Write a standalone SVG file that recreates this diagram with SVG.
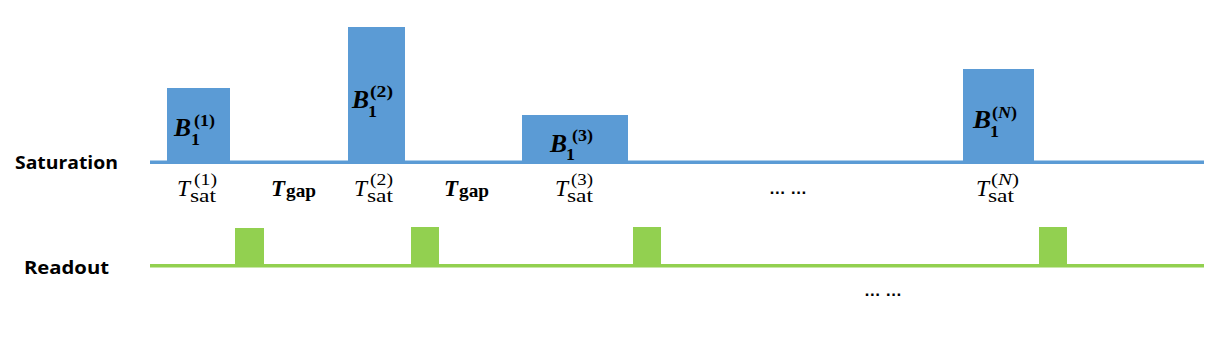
<svg xmlns="http://www.w3.org/2000/svg" width="1207" height="338" viewBox="0 0 1207 338">
<style>
.sat{fill:#5B9BD5}
.ro{fill:#92D050}
.lbl{font-family:"Open Sans","Liberation Sans",sans-serif;font-weight:bold;font-size:18px;fill:#000}
.m{font-family:"Liberation Serif","DejaVu Serif",serif;fill:#000}
.bi{font-weight:bold;font-style:italic}
.b{font-weight:bold}
.i{font-style:italic}
.dots{font-family:"Liberation Sans",sans-serif;font-size:17px;font-weight:bold;fill:#000}
</style>
<rect width="1207" height="338" fill="#fff"/>
<g id="connectors">
<rect class="sat" x="150" y="160.5" width="1054" height="3.5"/>
<rect class="ro" x="150" y="264" width="1054" height="3.5"/>
</g>
<g id="label-saturation"><text class="lbl" x="15" y="169" textLength="103" lengthAdjust="spacingAndGlyphs">Saturation</text></g>
<g id="label-readout"><text class="lbl" x="24" y="274" textLength="85" lengthAdjust="spacingAndGlyphs">Readout</text></g>
<g id="pulse-1">
<rect class="sat" x="167" y="88" width="63" height="74"/>
<text class="m bi" x="174" y="136" font-size="26" textLength="17" lengthAdjust="spacingAndGlyphs">B</text>
<text class="m b" x="191" y="145" font-size="17" textLength="9" lengthAdjust="spacingAndGlyphs">1</text>
<text class="m b" x="194" y="126" font-size="16" textLength="21" lengthAdjust="spacingAndGlyphs">(1)</text>
</g>
<g id="pulse-2">
<rect class="sat" x="348" y="27" width="57" height="135"/>
<text class="m bi" x="352" y="108" font-size="26" textLength="17" lengthAdjust="spacingAndGlyphs">B</text>
<text class="m b" x="368" y="117" font-size="17" textLength="9" lengthAdjust="spacingAndGlyphs">1</text>
<text class="m b" x="370" y="97" font-size="16" textLength="23" lengthAdjust="spacingAndGlyphs">(2)</text>
</g>
<g id="pulse-3">
<rect class="sat" x="522" y="115" width="106" height="47"/>
<text class="m bi" x="550" y="152" font-size="26" textLength="17" lengthAdjust="spacingAndGlyphs">B</text>
<text class="m b" x="566" y="160" font-size="17" textLength="9" lengthAdjust="spacingAndGlyphs">1</text>
<text class="m b" x="572" y="141" font-size="16" textLength="21" lengthAdjust="spacingAndGlyphs">(3)</text>
</g>
<g id="pulse-N">
<rect class="sat" x="963" y="69" width="71" height="93"/>
<text class="m bi" x="973" y="128" font-size="26" textLength="18" lengthAdjust="spacingAndGlyphs">B</text>
<text class="m b" x="990" y="137" font-size="17" textLength="9" lengthAdjust="spacingAndGlyphs">1</text>
<text class="m b" x="992" y="118" font-size="16" textLength="25" lengthAdjust="spacingAndGlyphs">(<tspan class="i">N</tspan>)</text>
</g>
<g id="tsat-1">
<text class="m i" x="177" y="196" font-size="23" textLength="13" lengthAdjust="spacingAndGlyphs">T</text>
<text class="m" x="190" y="202" font-size="19" textLength="26" lengthAdjust="spacingAndGlyphs">sat</text>
<text class="m" x="194" y="185" font-size="16" textLength="23" lengthAdjust="spacingAndGlyphs">(1)</text>
</g>
<g id="tgap-1">
<text class="m bi" x="271" y="196" font-size="23" textLength="14" lengthAdjust="spacingAndGlyphs">T</text>
<text class="m b" x="286" y="197" font-size="19" textLength="30" lengthAdjust="spacingAndGlyphs">gap</text>
</g>
<g id="tsat-2">
<text class="m i" x="354" y="196" font-size="23" textLength="13" lengthAdjust="spacingAndGlyphs">T</text>
<text class="m" x="367" y="202" font-size="19" textLength="26" lengthAdjust="spacingAndGlyphs">sat</text>
<text class="m" x="370" y="185" font-size="16" textLength="23" lengthAdjust="spacingAndGlyphs">(2)</text>
</g>
<g id="tgap-2">
<text class="m bi" x="444" y="196" font-size="23" textLength="14" lengthAdjust="spacingAndGlyphs">T</text>
<text class="m b" x="459" y="197" font-size="19" textLength="30" lengthAdjust="spacingAndGlyphs">gap</text>
</g>
<g id="tsat-3">
<text class="m i" x="555" y="196" font-size="23" textLength="13" lengthAdjust="spacingAndGlyphs">T</text>
<text class="m" x="567" y="202" font-size="19" textLength="26" lengthAdjust="spacingAndGlyphs">sat</text>
<text class="m" x="571" y="185" font-size="16" textLength="22" lengthAdjust="spacingAndGlyphs">(3)</text>
</g>
<g id="tsat-N">
<text class="m i" x="976" y="196" font-size="23" textLength="13" lengthAdjust="spacingAndGlyphs">T</text>
<text class="m" x="988" y="202" font-size="19" textLength="26" lengthAdjust="spacingAndGlyphs">sat</text>
<text class="m" x="991" y="185" font-size="16" textLength="28" lengthAdjust="spacingAndGlyphs">(<tspan class="i">N</tspan>)</text>
</g>
<g id="dots-1"><text class="dots" x="769" y="194" textLength="38" lengthAdjust="spacingAndGlyphs">… …</text></g>
<g id="readout-pulses">
<rect class="ro" x="235" y="228" width="29" height="38"/>
<rect class="ro" x="411" y="227" width="28" height="39"/>
<rect class="ro" x="633" y="227" width="28" height="39"/>
<rect class="ro" x="1039" y="227" width="28" height="39"/>
</g>
<g id="dots-2"><text class="dots" x="864" y="296" textLength="38" lengthAdjust="spacingAndGlyphs">… …</text></g>
</svg>
